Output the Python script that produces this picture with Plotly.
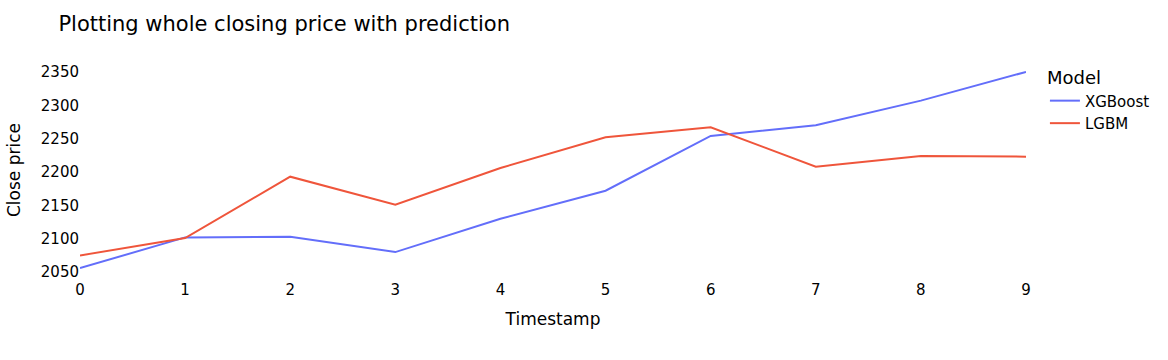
import plotly.graph_objects as go

timestamps = [0, 1, 2, 3, 4, 5, 6, 7, 8, 9]
xgboost_close = [2056, 2102, 2103, 2080, 2130, 2172, 2254, 2270, 2307, 2350]
lgbm_close = [2075, 2101, 2193, 2151, 2206, 2252, 2267, 2208, 2224, 2223]

fig = go.Figure()
fig.add_trace(go.Scatter(x=timestamps, y=xgboost_close, mode="lines", name="XGBoost",
                         line=dict(color="#636efa", width=2)))
fig.add_trace(go.Scatter(x=timestamps, y=lgbm_close, mode="lines", name="LGBM",
                         line=dict(color="#EF553B", width=2)))

fig.update_layout(
    template="plotly_white",
    width=1168, height=360,
    font=dict(family="Verdana, DejaVu Sans, sans-serif", size=15, color="#000000"),
    title=dict(text="Plotting whole closing price with prediction", font=dict(size=21)),
    legend=dict(title=dict(text="Model")),
    margin=dict(l=80, r=142, t=61, b=81),
    plot_bgcolor="white", paper_bgcolor="white",
)
fig.update_xaxes(title_text="Timestamp", title_font_size=17, dtick=1,
                 showgrid=False, zeroline=False, showline=False)
fig.update_yaxes(title_text="Close price", title_font_size=17, dtick=50,
                 showgrid=False, zeroline=False, showline=False)

fig.write_html("out.html")
